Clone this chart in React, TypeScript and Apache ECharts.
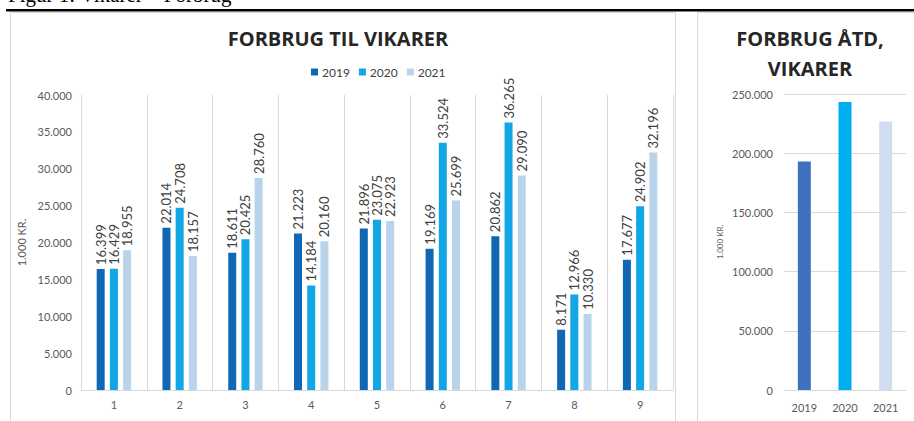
import React, { useEffect, useRef } from "react";
import * as echarts from "echarts";

const months = ["1", "2", "3", "4", "5", "6", "7", "8", "9"];
const seriesNames = ["2019", "2020", "2021"];
const values2019 = [16399, 22014, 18611, 21223, 21896, 19169, 20862, 8171, 17677];
const values2020 = [16429, 24708, 20425, 14184, 23075, 33524, 36265, 12966, 24902];
const values2021 = [18955, 18157, 28760, 20160, 22923, 25699, 29090, 10330, 32196];
const ytdYears = ["2019", "2020", "2021"];
const ytdValues = [192900, 243300, 226700];

const leftColors = ["#1067b3", "#12a6e4", "#b9d3ea"];
const rightColors = ["#4170c0", "#00aeef", "#d2deef"];

const fmt = (n: number) => String(Math.round(n)).replace(/\B(?=(\d{3})+(?!\d))/g, ".");

const FONT = "Lato, 'Open Sans', sans-serif";

export default function App() {
  const ref = useRef<HTMLDivElement>(null);
  useEffect(() => {
    if (!ref.current) return;
    const chart = echarts.init(ref.current, undefined, { renderer: "svg" });
    const monthly = [values2019, values2020, values2021];
    chart.setOption({
      animation: false,
      backgroundColor: "#ffffff",
      textStyle: { fontFamily: FONT },
      legend: {
        data: seriesNames,
        left: 306,
        top: 61,
        itemWidth: 7,
        itemHeight: 7,
        itemGap: 9,
        icon: "rect",
        textStyle: { color: "#404040", fontSize: 12, fontFamily: FONT, padding: [0, 0, 0, -1] },
      },
      grid: [
        { left: 81, top: 95, width: 592, height: 295 },
        { left: 784, top: 94, width: 122, height: 296 },
      ],
      xAxis: [
        {
          type: "category",
          gridIndex: 0,
          data: months,
          axisLine: { lineStyle: { color: "#d9d9d9" } },
          axisTick: { show: false },
          splitLine: { show: true, lineStyle: { color: "#d9d9d9" } },
          axisLabel: { color: "#595959", fontSize: 11, margin: 9, fontFamily: FONT },
        },
        {
          type: "category",
          gridIndex: 1,
          data: ytdYears,
          axisLine: { lineStyle: { color: "#d9d9d9" } },
          axisTick: { show: false },
          axisLabel: { color: "#595959", fontSize: 11, margin: 12, fontFamily: FONT },
        },
      ],
      yAxis: [
        {
          type: "value",
          gridIndex: 0,
          min: 0,
          max: 40000,
          interval: 5000,
          axisLine: { show: false },
          axisTick: { show: false },
          splitLine: { show: false },
          axisLabel: { color: "#595959", fontSize: 11, margin: 9, formatter: (v: number) => fmt(v), fontFamily: FONT },
          name: "1.000 KR.",
          nameLocation: "middle",
          nameGap: 54,
          nameTextStyle: { color: "#595959", fontSize: 11, fontFamily: FONT },
        },
        {
          type: "value",
          gridIndex: 1,
          min: 0,
          max: 250000,
          interval: 50000,
          axisLine: { show: false },
          axisTick: { show: false },
          splitLine: { show: true, lineStyle: { color: "#d9d9d9" } },
          axisLabel: { color: "#595959", fontSize: 11, margin: 11, formatter: (v: number) => fmt(v), fontFamily: FONT },
          name: "1.000 KR.",
          nameLocation: "middle",
          nameGap: 60,
          nameTextStyle: { color: "#595959", fontSize: 8, fontFamily: FONT },
        },
      ],
      series: [
        ...seriesNames.map((name, i) => ({
          name,
          type: "bar",
          xAxisIndex: 0,
          yAxisIndex: 0,
          data: monthly[i],
          barWidth: 8,
          barGap: "65%",
          itemStyle: { color: leftColors[i] },
          label: {
            show: true,
            position: "top",
            rotate: 90,
            align: "left",
            verticalAlign: "middle",
            distance: 4,
            color: "#404040",
            fontSize: 13,
            fontFamily: FONT,
            formatter: (p: any) => fmt(p.value),
          },
        })),
        {
          name: "ÅTD",
          type: "bar",
          xAxisIndex: 1,
          yAxisIndex: 1,
          barWidth: 13,
          data: ytdValues.map((v, i) => ({ value: v, itemStyle: { color: rightColors[i] } })),
        },
      ],
      graphic: [
        {
          type: "text",
          x: 8,
          y: -5,
          style: {
            text: "Figur 1: Vikarer – Forbrug",
            font: "21px 'Liberation Serif', serif",
            fill: "#000",
            verticalAlign: "middle",
            textVerticalAlign: "middle",
          },
        },
        { type: "rect", shape: { x: 6, y: 9, width: 910, height: 2.5 }, style: { fill: "#000" } },
        { type: "rect", shape: { x: 10.5, y: 12.5, width: 665, height: 430 }, style: { fill: "none", stroke: "#d9d9d9", lineWidth: 1 } },
        { type: "rect", shape: { x: 697.5, y: 12.5, width: 240, height: 430 }, style: { fill: "none", stroke: "#d9d9d9", lineWidth: 1 } },
        {
          type: "text",
          x: 338,
          y: 38,
          style: {
            text: "FORBRUG TIL VIKARER",
            font: "bold 20px 'Open Sans', sans-serif",
            fill: "#262626",
            align: "center",
            textAlign: "center",
            verticalAlign: "middle",
            textVerticalAlign: "middle",
          },
        },
        {
          type: "text",
          x: 810,
          y: 53,
          style: {
            text: "FORBRUG ÅTD,\nVIKARER",
            font: "bold 20px 'Open Sans', sans-serif",
            lineHeight: 30,
            fill: "#262626",
            align: "center",
            textAlign: "center",
            verticalAlign: "middle",
            textVerticalAlign: "middle",
          },
        },
      ],
    });
    return () => chart.dispose();
  }, []);
  return <div ref={ref} style={{ position: "absolute", left: 0, top: 0, width: 914, height: 421 }} />;
}
